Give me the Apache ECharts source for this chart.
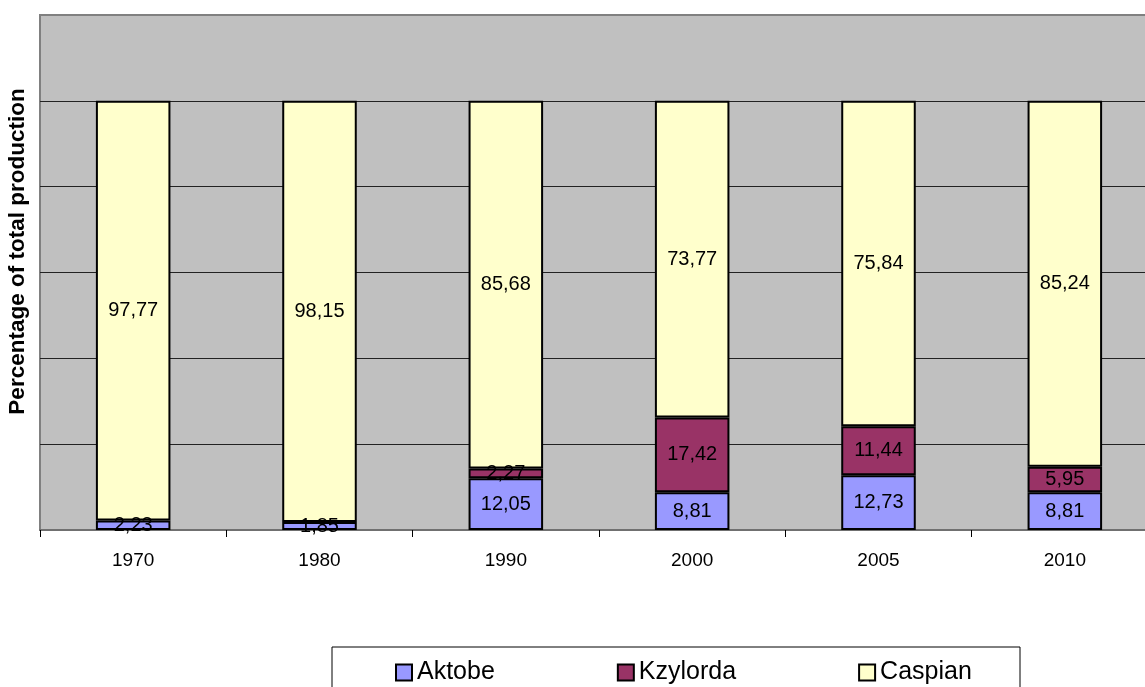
<!DOCTYPE html>
<html>
<head>
    <meta charset="utf-8">
    <title>Production share</title>
    <script src="https://cdn.jsdelivr.net/npm/echarts@6/dist/echarts.min.js"></script>
    <style>
        html, body {margin:0;padding:0;background:#fff}
        #chart {width:1145px;height:687px}
    </style>
</head>
<body>
<div id="chart"></div>
<script>
    var years = ['1970', '1980', '1990', '2000', '2005', '2010'];
    var aktobe = [2.23, 1.85, 12.05, 8.81, 12.73, 8.81];
    var kzylorda = [null, null, 2.27, 17.42, 11.44, 5.95];
    var caspian = [97.77, 98.15, 85.68, 73.77, 75.84, 85.24];

    var chart = echarts.init(document.getElementById('chart'));
    var font = "'Liberation Sans', Arial, sans-serif";

    function fmt(p) {
        return p.value == null ? '' : p.value.toFixed(2).replace('.', ',');
    }

    function bar(name, data, color) {
        return {
            name: name,
            type: 'bar',
            stack: 'total',
            data: data,
            barWidth: '40%',
            itemStyle: {color: color, borderColor: '#000', borderWidth: 2},
            label: {
                show: true,
                position: 'inside',
                formatter: fmt,
                color: '#000',
                fontSize: 20,
                fontFamily: font
            }
        };
    }

    var option = {
        animation: false,
        textStyle: {fontFamily: font},
        grid: {
            left: 40, width: 1118, top: 15, bottom: 157,
            outerBoundsMode: 'none',
            show: true,
            backgroundColor: '#c0c0c0',
            borderColor: '#808080',
            borderWidth: 2
        },
        graphic: [{
            type: 'rect',
            shape: {x: 332, y: 647, width: 688, height: 50},
            style: {fill: '#fff', stroke: '#000', lineWidth: 1},
            z: 0
        }],
        legend: {
            left: 390,
            top: 655,
            itemWidth: 16,
            itemHeight: 16,
            itemGap: 122,
            icon: 'rect',
            textStyle: {fontSize: 25, color: '#000', fontFamily: font},
            data: ['Aktobe', 'Kzylorda', 'Caspian'],
            z: 5
        },
        xAxis: {
            type: 'category',
            data: years,
            axisLine: {lineStyle: {color: '#707070', width: 2}},
            axisTick: {show: true, length: 7, lineStyle: {color: '#000'}},
            axisLabel: {fontSize: 19, color: '#000', margin: 21, fontFamily: font}
        },
        yAxis: {
            type: 'value',
            min: 0,
            max: 120,
            interval: 20,
            name: 'Percentage of total production',
            nameLocation: 'middle',
            nameGap: 11,
            nameTextStyle: {fontSize: 22.5, fontWeight: 'bold', color: '#000', fontFamily: font, padding: [0, 0, 0, 42]},
            axisLine: {show: false},
            axisTick: {show: false},
            axisLabel: {show: false},
            splitLine: {lineStyle: {color: ['#000', '#222', '#222', '#222', '#222', '#222', '#808080'], width: 1}}
        },
        series: [
            bar('Aktobe', aktobe, '#9999ff'),
            bar('Kzylorda', kzylorda, '#993366'),
            bar('Caspian', caspian, '#ffffcc')
        ]
    };
    chart.setOption(option);
</script>
</body>
</html>
